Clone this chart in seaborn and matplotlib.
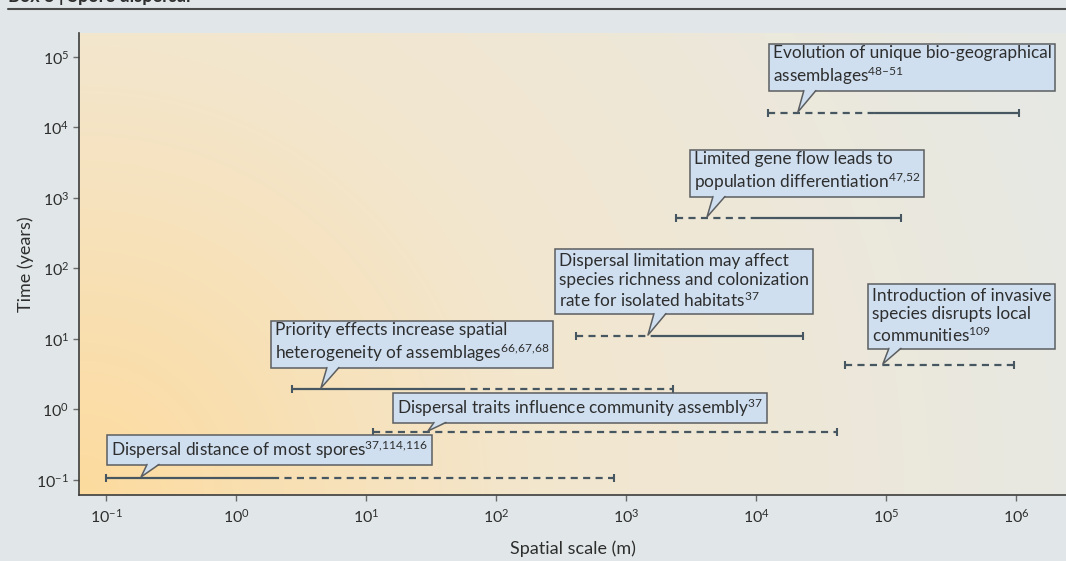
import numpy as np
import pandas as pd
import matplotlib
matplotlib.use("Agg")
import matplotlib.pyplot as plt
from matplotlib.patches import Polygon
from matplotlib.lines import Line2D
from matplotlib.colors import to_rgb
import seaborn as sns

# one entry per range bar (spatial scale in m, time in years)
labels = [
    "Dispersal distance of most spores$^{37{,}114{,}116}$",
    "Priority effects increase spatial\nheterogeneity of assemblages$^{66{,}67{,}68}$",
    "Dispersal traits influence community assembly$^{37}$",
    "Dispersal limitation may affect\nspecies richness and colonization\nrate for isolated habitats$^{37}$",
    "Introduction of invasive\nspecies disrupts local\ncommunities$^{109}$",
    "Evolution of unique bio-geographical\nassemblages$^{48\u201351}$",
    "Limited gene flow leads to\npopulation differentiation$^{47{,}52}$",
]
bar_time = [0.107, 1.95, 0.48, 11, 4.3, 16000, 520]
solid_lo = [0.1, 2.7, np.nan, 1670, np.nan, 82000, 10200]
solid_hi = [1.9, 51, np.nan, 23000, np.nan, 1.05e6, 130000]
dashed_lo = [1.9, 51, 11.3, 412, 48400, 12400, 2420]
dashed_hi = [810, 2300, 42000, 1670, 966000, 82000, 10200]
tip_x = [0.186, 4.5, 30, 1476, 94800, 21000, 4200]

# callout box lower-left corner relative to the pointer tip, in pixels
box_offset = [(-34, 13), (-50, 21), (-35, 9), (-93, 22), (-15, 16), (-29, 22), (-17, 21)]

xticks = [1e-1, 1e0, 1e1, 1e2, 1e3, 1e4, 1e5, 1e6]
yticks = [1e-1, 1e0, 1e1, 1e2, 1e3, 1e4, 1e5]

line_col = "#465762"
box_fc = "#cfdff0"
box_ec = "#5b5e61"
text_col = "#2e2e2e"
fs = 12.4

sns.set_theme(style="white")
plt.rcParams["font.family"] = ["Lato", "DejaVu Sans"]
plt.rcParams["mathtext.fontset"] = "custom"
plt.rcParams["mathtext.rm"] = "Lato"
plt.rcParams["mathtext.it"] = "Lato:italic"
plt.rcParams["mathtext.bf"] = "Lato:bold"
plt.rcParams["mathtext.default"] = "regular"

W, H = 1066, 561
fig = plt.figure(figsize=(W / 100, H / 100), dpi=100, facecolor="#e1e7e8")
pos = [79 / W, (H - 495) / H, (W - 79) / W, (495 - 33) / H]

# warm radial wash behind the plot
bg = fig.add_axes(pos, zorder=0)
h, w = 462, 987
yy, xx = np.mgrid[0:h, 0:w]
r = np.hypot(xx, h - yy)
stops = [0, 450, 1000, 1150]
cols = np.array([to_rgb(c) for c in ["#fddb9e", "#f3e6cd", "#e8e9e3", "#e4e8e4"]])
img = np.dstack([np.interp(r, stops, cols[:, k]) for k in range(3)])
bg.imshow(img, aspect="auto", interpolation="bilinear")
bg.axis("off")

ax = fig.add_axes(pos, zorder=1)
ax.patch.set_alpha(0)
ax.set_xscale("log")
ax.set_yscale("log")

rows = []
for i in range(len(labels)):
    for kind, lo, hi in [("solid", solid_lo[i], solid_hi[i]), ("dashed", dashed_lo[i], dashed_hi[i])]:
        if np.isnan(lo):
            continue
        rows.append(dict(seg=f"{i}-{kind}", kind=kind, x=lo, y=bar_time[i]))
        rows.append(dict(seg=f"{i}-{kind}", kind=kind, x=hi, y=bar_time[i]))
seg = pd.DataFrame(rows)

sns.lineplot(data=seg, x="x", y="y", units="seg", style="kind", estimator=None,
             dashes={"solid": "", "dashed": (3.2, 2.4)}, color=line_col,
             lw=1.6, legend=False, sort=False, ax=ax, zorder=2)

caps = pd.DataFrame({
    "x": list(np.fmin(solid_lo, dashed_lo)) + list(np.fmax(solid_hi, dashed_hi)),
    "y": bar_time * 2,
})
ax.plot(caps["x"], caps["y"], ls="none", marker="|", ms=6, mew=1.5, color=line_col, zorder=2)

ax.set_xlim(10 ** -1.208, 10 ** 6.385)
ax.set_ylim(10 ** -1.213, 10 ** 5.34)
ax.set_xticks(xticks)
ax.set_yticks(yticks)
ax.minorticks_off()
for s in ["top", "right"]:
    ax.spines[s].set_visible(False)
for s in ["left", "bottom"]:
    ax.spines[s].set_color("#3c3c3c")
    ax.spines[s].set_linewidth(1.2)
ax.tick_params(axis="both", which="major", direction="out", length=4.5, width=1,
               color="#6b6b6b", labelcolor=text_col, labelsize=11.5, left=True, bottom=True)
ax.tick_params(axis="x", pad=5)
ax.tick_params(axis="y", pad=2.5)
ax.set_xlabel("Spatial scale (m)", fontsize=13, color=text_col, labelpad=10)
ax.set_ylabel("Time (years)", fontsize=13, color=text_col, labelpad=2)

pad = 0.22
pad_pt = pad * fs
anns = []
for i, txt in enumerate(labels):
    dx, dy = box_offset[i]
    a = ax.annotate(txt, xy=(tip_x[i], bar_time[i]), xycoords="data",
                    xytext=(dx * 0.72 + pad_pt, dy * 0.72 + pad_pt), textcoords="offset points",
                    ha="left", va="bottom", fontsize=fs, color=text_col, linespacing=1.2,
                    bbox=dict(boxstyle=f"square,pad={pad}", fc=box_fc, ec=box_ec, lw=1.1),
                    zorder=4, annotation_clip=False)
    anns.append(a)

# speech-bubble pointers from each box down to its bar
fig.canvas.draw()
renderer = fig.canvas.get_renderer()
inv = ax.transData.inverted()
for a, tx, ty in zip(anns, tip_x, bar_time):
    bb = a.get_bbox_patch().get_window_extent(renderer)
    px, py = ax.transData.transform((tx, ty))
    py += 1
    fill = inv.transform([(px + 6, bb.y0 + 1.5), (px + 18, bb.y0 + 1.5), (px, py)])
    ax.add_patch(Polygon(fill, closed=True, fc=box_fc, ec="none", zorder=5))
    side = inv.transform([(px + 6, bb.y0 + 0.5), (px, py), (px + 18, bb.y0 + 0.5)])
    ax.plot(side[:, 0], side[:, 1], color=box_ec, lw=1.1, zorder=6)

fig.add_artist(Line2D([8 / W, 1], [1 - 8.5 / H] * 2, color="#4a4a4a", lw=1.5))
fig.text(8 / W, 1 - 2 / H, "Box 3 | Spore dispersal", fontsize=13, fontweight="bold",
         color="#2e2e2e", ha="left", va="baseline")

fig.savefig("out.png", dpi=100, facecolor=fig.get_facecolor())
